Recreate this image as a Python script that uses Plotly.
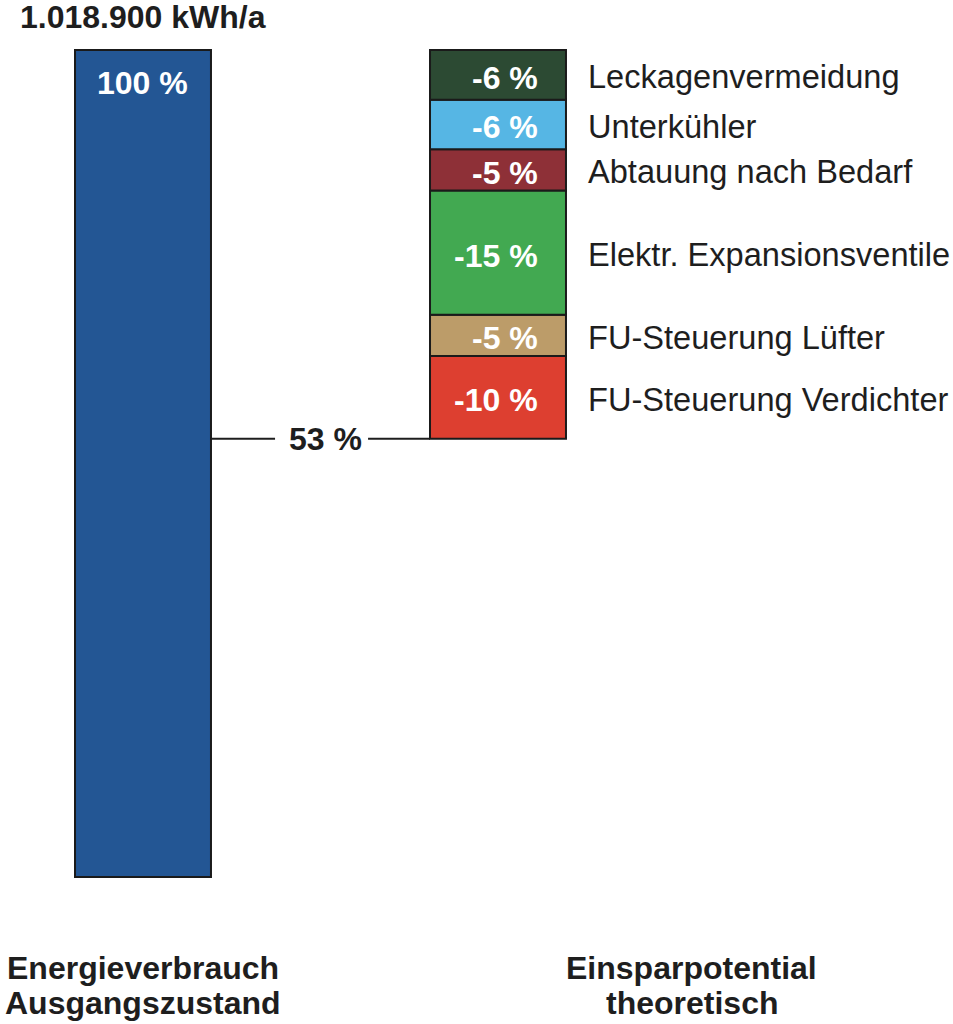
import plotly.graph_objects as go

# data
total_label = "1.018.900 kWh/a"
base_value = 100
measures = ["FU-Steuerung Verdichter", "FU-Steuerung Lüfter", "Elektr. Expansionsventile",
            "Abtauung nach Bedarf", "Unterkühler", "Leckagenvermeidung"]
savings = [10, 5, 15, 5, 6, 6]
colors = ["#DD3F30", "#BC9C69", "#42A951", "#8E3037", "#56B6E4", "#2C4A33"]
category_lines = [["Energieverbrauch", "Ausgangszustand"], ["Einsparpotential", "theoretisch"]]

remaining = base_value - sum(savings)
bases = []
acc = remaining
for v in savings:
    bases.append(acc)
    acc += v
centers = [b + v / 2 for b, v in zip(bases, savings)]

W = 0.383
FONT = "Liberation Sans, Arial, sans-serif"
DARK = "#1e1e1e"

fig = go.Figure()
fig.add_trace(go.Bar(
    x=[0], y=[base_value], width=W,
    marker=dict(color="#235694", line=dict(color="#1a1a1a", width=2)),
    hoverinfo="skip"
))
fig.add_trace(go.Bar(
    x=[1] * len(savings), y=savings, base=bases, width=W,
    marker=dict(color=colors, line=dict(color="#1a1a1a", width=2)),
    hoverinfo="skip"
))

# connector at remaining level
fig.add_trace(go.Scatter(
    x=[W / 2, 0.372, None, 0.634, 1 - W / 2],
    y=[remaining, remaining, None, remaining, remaining],
    mode="lines", line=dict(color=DARK, width=2), hoverinfo="skip"
))

bold = dict(family=FONT, size=32, color=DARK, weight="bold")
white_bold = dict(family=FONT, size=32, color="white", weight="bold")

# labels inside the stack and measure names
for c, v, name in zip(centers, savings, measures):
    fig.add_annotation(x=1.118, y=c, text=f"-{v} %", showarrow=False, xanchor="right",
                       yshift=-3, font=white_bold)
    fig.add_annotation(x=1.247, y=c, text=name, showarrow=False, xanchor="left",
                       yshift=-2, font=dict(family=FONT, size=32.6, color=DARK))

fig.add_annotation(x=0.513, y=remaining, text=f"{remaining} %", showarrow=False, font=bold)
fig.add_annotation(x=0, y=base_value - 4, text=f"{base_value} %", showarrow=False, font=white_bold)
fig.add_annotation(x=0, y=base_value + 4, text=total_label, showarrow=False, font=bold)
for cx, lines in zip([0, 1.546], category_lines):
    for ly, txt in zip([-11.0, -15.25], lines):
        fig.add_annotation(x=cx, y=ly, text=txt, showarrow=False, font=bold)

fig.update_layout(
    width=953, height=1024,
    margin=dict(l=0, r=0, t=0, b=0),
    paper_bgcolor="white", plot_bgcolor="white",
    showlegend=False, barmode="overlay",
    xaxis=dict(range=[-0.4028, 2.2817], visible=False, fixedrange=True),
    yaxis=dict(range=[-17.78, 106.05], visible=False, fixedrange=True),
)

fig.write_html("out.html", config={"displayModeBar": False},
               post_script="document.body.style.margin='0';")
